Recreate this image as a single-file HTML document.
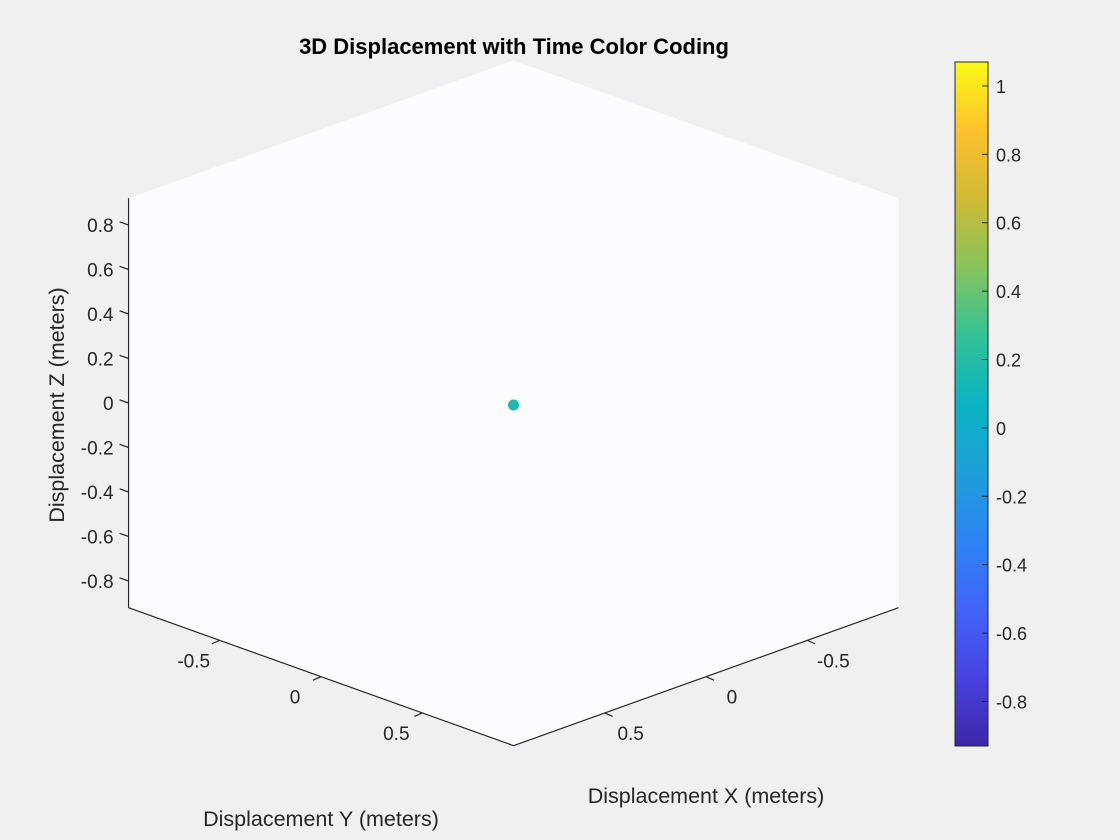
<!DOCTYPE html>
<html><head><meta charset="utf-8"><style>
html,body{margin:0;padding:0;background:#f0f0f0;}
svg{display:block;font-family:"Liberation Sans",Arial,sans-serif;}
</style></head><body>
<svg id="chart" width="1120" height="840" viewBox="0 0 1120 840">
<defs>
<linearGradient id="parula" x1="0" y1="1" x2="0" y2="0">
<stop offset="0" stop-color="#3e26a8"/><stop offset="0.1" stop-color="#4743e2"/>
<stop offset="0.2" stop-color="#4263fa"/><stop offset="0.3" stop-color="#2c84f5"/>
<stop offset="0.4" stop-color="#1e9fd9"/><stop offset="0.5" stop-color="#09b4c3"/>
<stop offset="0.6" stop-color="#34c196"/><stop offset="0.7" stop-color="#86c55c"/>
<stop offset="0.8" stop-color="#d1ba35"/><stop offset="0.9" stop-color="#fdc12d"/>
<stop offset="1" stop-color="#f9fb15"/>
</linearGradient>
</defs>
<text x="514" y="54" text-anchor="middle" font-size="22" font-weight="bold" fill="#000">3D Displacement with Time Color Coding</text>
<g id="axes"></g>
<g id="cbar"></g>
</svg>
<script>
const xTicks=[-0.5,0,0.5];
const yTicks=[-0.5,0,0.5];
const zTicks=[-0.8,-0.6,-0.4,-0.2,0,0.2,0.4,0.6,0.8];
const cbTicks=[-0.8,-0.6,-0.4,-0.2,0,0.2,0.4,0.6,0.8,1];
const ptX=[0];
const ptY=[0];
const ptZ=[0];
const ptT=[0];
const xLim=[-0.95,0.95], yLim=[-0.95,0.95], zLim=[-0.92,0.92];
const cLim=[-0.93,1.07];

const NS="http://www.w3.org/2000/svg";
const cx=513.5, cy=403, ux=202.6, uy=72.6, uz=222.5;
function P(x,y,z){return [cx+ux*y-ux*x, cy+uy*y+uy*x-uz*z];}
function mk(tag,attrs,parent){const e=document.createElementNS(NS,tag);for(const k in attrs)e.setAttribute(k,attrs[k]);parent.appendChild(e);return e;}
const g=document.getElementById('axes');
const X0=xLim[0],X1=xLim[1],Y0=yLim[0],Y1=yLim[1],Z0=zLim[0],Z1=zLim[1];
const hex=[P(X0,Y0,Z1),P(X0,Y1,Z1),P(X0,Y1,Z0),P(X1,Y1,Z0),P(X1,Y0,Z0),P(X1,Y0,Z1)];
const poly=mk('polygon',{points:hex.map(p=>p.join(',')).join(' '),fill:'#fcfcff',stroke:'none'},g);


function line(a,b,name){const l=mk('line',{x1:a[0],y1:a[1],x2:b[0],y2:b[1],stroke:'#262626','stroke-width':1.2},g);}
line(P(X1,Y0,Z0),P(X1,Y0,Z1),'z-axis-line');
line(P(X1,Y0,Z0),P(X1,Y1,Z0),'y-axis-line');
line(P(X1,Y1,Z0),P(X0,Y1,Z0),'x-axis-line');
function text(x,y,s,anchor,name,size){const t=mk('text',{x:x,y:y,'text-anchor':anchor,'font-size':size||19,fill:'#262626'},g);t.textContent=s;return t;}
zTicks.forEach(v=>{const p=P(X1,Y0,v);line(p,[p[0]-9,p[1]-3.2],'z-tick');text(p[0]-15,p[1]+7,String(v),'end','z-tick-label');});
yTicks.forEach(v=>{const p=P(X1,v,Z0);line(p,[p[0]-8,p[1]+3.5],'y-tick');text(p[0]-26,p[1]+27,String(v),'middle','y-tick-label');});
xTicks.forEach(v=>{const p=P(v,Y1,Z0);line(p,[p[0]+8,p[1]+3.5],'x-tick');text(p[0]+26,p[1]+27,String(v),'middle','x-tick-label');});
text(321,826,'Displacement Y (meters)','middle','y-axis-title',21.5);
text(706,803,'Displacement X (meters)','middle','x-axis-title',21.5);
const zt=text(0,0,'Displacement Z (meters)','middle','z-axis-title',21.5);
zt.setAttribute('transform','translate(64,405) rotate(-90)');
const stops=[[62,38,168],[71,67,226],[66,99,250],[44,132,245],[30,159,217],[9,180,195],[52,193,150],[134,197,92],[209,186,53],[253,193,45],[249,251,21]];
function cmap(t){const f=Math.max(0,Math.min(1,(t-cLim[0])/(cLim[1]-cLim[0])))*10;const i=Math.min(9,Math.floor(f)),r=f-i;const a=stops[i],b=stops[i+1];return 'rgb('+a.map((c,k)=>Math.round(c+(b[k]-c)*r)).join(',')+')';}
ptX.forEach((x,i)=>{const p=P(x,ptY[i],ptZ[i]);const c=mk('circle',{cx:p[0],cy:p[1]+2,r:5.5,fill:cmap(ptT[i]+0.15)},g);});
const cb=document.getElementById('cbar');
const cbTop=62,cbBot=746,cbL=955,cbR=988;
function cbY(v){return cbBot-(v-cLim[0])/(cLim[1]-cLim[0])*(cbBot-cbTop);}
const r=mk('rect',{x:cbL,y:cbTop,width:cbR-cbL,height:cbBot-cbTop,fill:'url(#parula)',stroke:'#262626','stroke-width':1},cb);


cbTicks.forEach(v=>{const y=cbY(v);const l=mk('line',{x1:cbR-6,y1:y,x2:cbR,y2:y,stroke:'#262626','stroke-width':1},cb);
const t=mk('text',{x:996,y:y+7,'font-size':18,fill:'#262626'},cb);t.textContent=String(v);});
</script>
</body></html>
